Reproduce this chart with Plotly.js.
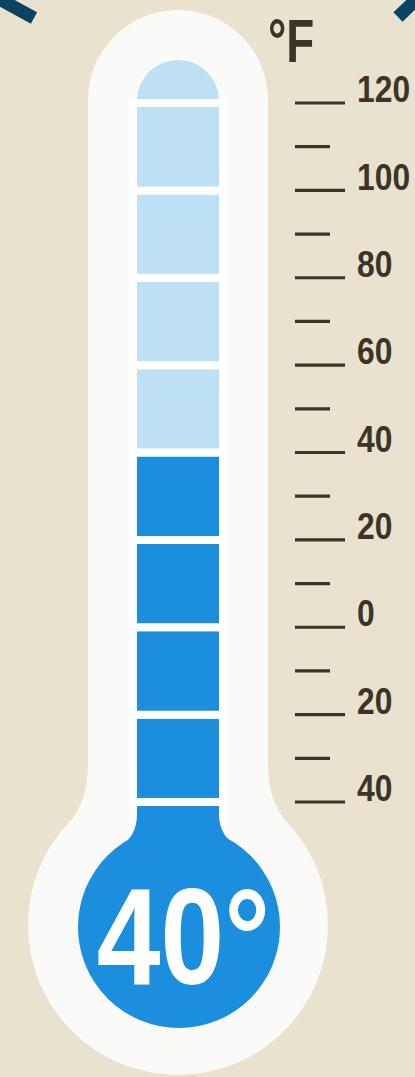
<!DOCTYPE html>
<html>
<head>
<meta charset="utf-8">
<script src="https://cdn.plot.ly/plotly-3.0.1.min.js"></script>
<style>
html,body{margin:0;padding:0;background:#e9e2ce;overflow:hidden;}
#chart{width:415px;height:1077px;}
/* condensed look for the tick labels and titles */
#chart .textpoint text{transform-box:fill-box;transform-origin:0% 50%;transform:scaleX(0.86);}
#chart .annotation.unit .annotation-text{transform-box:fill-box;transform-origin:0% 50%;transform:scaleX(0.74);}
#chart .annotation.reading .annotation-text{transform-box:fill-box;transform-origin:50% 50%;transform:scaleX(0.83);}
</style>
</head>
<body>
<div id="chart"></div>
<script>
// ---- data ----
const currentTemp = 40;               // reading shown in the bulb (°F)
const scaleMin = -40;                 // bottom of scale (°F)
const scaleMax = 120;                 // top of scale (°F)
const bandStep = 20;                  // size of one mercury segment (°F)
const majorTicks = [120, 100, 80, 60, 40, 20, 0, -20, -40];
const majorTickLabels = ['120', '100', '80', '60', '40', '20', '0', '20', '40'];
const minorTicks = [110, 90, 70, 50, 30, 10, -10, -30];
const unitLabel = '°F';

// ---- layout constants (pixels) ----
const W = 415, H = 1077;
const topTickPx = 103, bottomTickPx = 802;
const pxPerDeg = (bottomTickPx - topTickPx) / (scaleMax - scaleMin);
const yTop = scaleMax + topTickPx / pxPerDeg;
const yBottom = scaleMin - (H - bottomTickPx) / pxPerDeg;
const py = p => scaleMax - (p - topTickPx) / pxPerDeg;   // pixel row -> °F axis value
const path = pts => pts.map((p, i) => (p[0] + ' ' + p[1] + ',' + py(p[2]))).join(' ') + ' Z';

const FONT = '"Liberation Sans", Arial, sans-serif';
const C = {
  bg: '#e9e2ce', tube: '#fafaf8', light: '#bee0f5', dark: '#1b8fdd',
  ink: '#3a3528', navy: '#0b4463'
};
const cx = 178;

// mercury bands
const bandBase = [], bandLen = [], bandColor = [];
for (let b = scaleMin - bandStep; b < scaleMax; b += bandStep) {
  bandBase.push(b);
  bandLen.push(bandStep);
  bandColor.push(b + bandStep <= currentTemp ? C.dark : C.light);
}

// tick segments
const majX = [], majY = [], minX = [], minY = [];
majorTicks.forEach(t => { majX.push(295, 345, null); majY.push(t, t, null); });
minorTicks.forEach(t => { minX.push(295, 330, null); minY.push(t, t, null); });

const labelOffsetDeg = 10 / pxPerDeg;

const traces = [
  {
    type: 'bar', x: bandBase.map(() => cx), y: bandLen, base: bandBase,
    width: 90,
    marker: { color: bandColor, line: { color: '#ffffff', width: 8 } },
    hoverinfo: 'skip', showlegend: false
  },
  {
    type: 'scatter', mode: 'lines', x: majX, y: majY,
    line: { color: C.ink, width: 3.2 }, hoverinfo: 'skip', showlegend: false
  },
  {
    type: 'scatter', mode: 'lines', x: minX, y: minY,
    line: { color: C.ink, width: 3.2 }, hoverinfo: 'skip', showlegend: false
  },
  {
    type: 'scatter', mode: 'text', x: majorTicks.map(() => 357),
    y: majorTicks.map(t => t + labelOffsetDeg),
    text: majorTickLabels, textposition: 'middle right',
    textfont: { family: FONT, size: 37, color: C.ink, weight: 'bold' },
    hoverinfo: 'skip', showlegend: false
  }
];

const shapes = [
  // white glass tube and bulb
  { type: 'rect', layer: 'below', xref: 'x', yref: 'y', x0: 88, x1: 268, y0: py(100), y1: py(880),
    fillcolor: C.tube, line: { width: 0 } },
  { type: 'circle', layer: 'below', xref: 'x', yref: 'y', x0: 88, x1: 268, y0: py(10), y1: py(190),
    fillcolor: C.tube, line: { width: 0 } },
  { type: 'circle', layer: 'below', xref: 'x', yref: 'y', x0: 28, x1: 328, y0: py(775), y1: py(1075),
    fillcolor: C.tube, line: { width: 0 } },
  // smooth joins between tube and bulb
  { type: 'path', layer: 'below', xref: 'x', yref: 'y',
    path: 'M 88,' + py(765) + ' Q 88,' + py(808) + ' 60,' + py(832) + ' L 100,' + py(832) + ' L 100,' + py(765) + ' Z',
    fillcolor: C.tube, line: { width: 0 } },
  { type: 'path', layer: 'below', xref: 'x', yref: 'y',
    path: 'M 268,' + py(765) + ' Q 268,' + py(808) + ' 296,' + py(832) + ' L 256,' + py(832) + ' L 256,' + py(765) + ' Z',
    fillcolor: C.tube, line: { width: 0 } },
  // rounded top of the column
  { type: 'circle', layer: 'below', xref: 'x', yref: 'y', x0: 137, x1: 219, y0: py(60), y1: py(142),
    fillcolor: C.light, line: { width: 0 } },
  // dark bulb
  { type: 'circle', layer: 'above', xref: 'x', yref: 'y', x0: 78, x1: 280, y0: py(826), y1: py(1028),
    fillcolor: C.dark, line: { width: 0 } },
  { type: 'path', layer: 'above', xref: 'x', yref: 'y',
    path: 'M 137,' + py(814) + ' Q 137,' + py(838) + ' 117,' + py(848) + ' L 150,' + py(848) + ' L 150,' + py(814) + ' Z',
    fillcolor: C.dark, line: { width: 0 } },
  { type: 'path', layer: 'above', xref: 'x', yref: 'y',
    path: 'M 219,' + py(814) + ' Q 219,' + py(838) + ' 241,' + py(848) + ' L 206,' + py(848) + ' L 206,' + py(814) + ' Z',
    fillcolor: C.dark, line: { width: 0 } },
  // corner strokes
  { type: 'line', layer: 'below', xref: 'x', yref: 'y', x0: -8, y0: py(-5), x1: 34, y1: py(18),
    line: { color: C.navy, width: 13 } },
  { type: 'line', layer: 'below', xref: 'x', yref: 'y', x0: 422, y0: py(-6), x1: 398, y1: py(17),
    line: { color: C.navy, width: 13 } }
];

const annotations = [
  { xref: 'x', yref: 'y', x: 266, y: py(40), xanchor: 'left', yanchor: 'middle',
    text: unitLabel, showarrow: false,
    font: { family: FONT, size: 62, color: C.ink, weight: 'bold' } },
  { xref: 'x', yref: 'y', x: 183, y: py(936), xanchor: 'center', yanchor: 'middle',
    text: currentTemp + '°', showarrow: false,
    font: { family: FONT, size: 138, color: '#ffffff', weight: 'bold' } }
];

const layout = {
  width: W, height: H,
  margin: { l: 0, r: 0, t: 0, b: 0, pad: 0 },
  paper_bgcolor: C.bg, plot_bgcolor: C.bg,
  xaxis: { range: [0, W], visible: false, fixedrange: true },
  yaxis: { range: [yBottom, yTop], visible: false, fixedrange: true },
  bargap: 0,
  shapes: shapes, annotations: annotations,
  showlegend: false
};

Plotly.newPlot('chart', traces, layout, { displayModeBar: false, staticPlot: true }).then(gd => {
  const anns = gd.querySelectorAll('.annotation');
  if (anns[0]) anns[0].classList.add('unit');
  if (anns[1]) anns[1].classList.add('reading');
});
</script>
</body>
</html>
